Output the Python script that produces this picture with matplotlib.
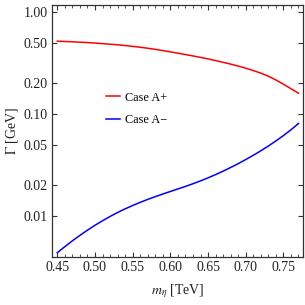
import matplotlib
matplotlib.use("Agg")
import matplotlib.pyplot as plt
from matplotlib.ticker import FixedLocator, MultipleLocator, NullLocator, StrMethodFormatter

# values
m_eta = [0.45, 0.46, 0.47, 0.48, 0.49, 0.50, 0.51, 0.52, 0.53, 0.54, 0.55,
         0.56, 0.57, 0.58, 0.59, 0.60, 0.61, 0.62, 0.63, 0.64, 0.65, 0.66,
         0.67, 0.68, 0.69, 0.70, 0.71, 0.72, 0.73, 0.74, 0.75, 0.76, 0.77]
gamma_plus = [0.520, 0.516, 0.513, 0.508, 0.504, 0.498, 0.492, 0.485, 0.479, 0.471, 0.462,
              0.453, 0.443, 0.432, 0.420, 0.408, 0.396, 0.384, 0.372, 0.360, 0.348, 0.335,
              0.322, 0.309, 0.296, 0.282, 0.267, 0.252, 0.235, 0.216, 0.196, 0.177, 0.160]
gamma_minus = [0.00431, 0.00494, 0.00564, 0.00638, 0.00718, 0.00802, 0.00889, 0.00979, 0.01072, 0.01164, 0.01256,
               0.01349, 0.01442, 0.01535, 0.01629, 0.01726, 0.01828, 0.01936, 0.02056, 0.02193, 0.02350, 0.02529,
               0.02735, 0.02972, 0.03243, 0.03556, 0.03917, 0.04335, 0.04831, 0.05420, 0.06124, 0.06982, 0.08054]
y_ticks = [0.01, 0.02, 0.05, 0.10, 0.20, 0.50, 1.00]
x_ticks = [0.45, 0.50, 0.55, 0.60, 0.65, 0.70, 0.75]

plt.rcParams['font.family'] = ['Liberation Serif', 'DejaVu Serif']
plt.rcParams['mathtext.fontset'] = 'stix'

fig = plt.figure(figsize=(3.05, 3.05), dpi=100)
ax = fig.add_axes([0.1705, 0.157, 0.823, 0.8266])

ax.plot(m_eta, gamma_plus, color='red', lw=1.1)
ax.plot(m_eta, gamma_minus, color='blue', lw=1.1)

ax.set_yscale('log')
ax.set_xlim(0.443, 0.776)
ax.set_ylim(0.0039, 1.18)

ax.yaxis.set_major_locator(FixedLocator(y_ticks))
ax.yaxis.set_minor_locator(NullLocator())
ax.yaxis.set_major_formatter(StrMethodFormatter('{x:.2f}'))
ax.xaxis.set_major_locator(FixedLocator(x_ticks))
ax.xaxis.set_minor_locator(MultipleLocator(0.01))
ax.xaxis.set_major_formatter(StrMethodFormatter('{x:.2f}'))

ax.tick_params(which='both', direction='in', top=True, right=True,
               labelsize=10, colors='#333333', labelcolor='#222222')
ax.tick_params(which='major', length=3.5, width=0.8, pad=3)
ax.tick_params(which='minor', length=2, width=0.6)
for s in ax.spines.values():
    s.set_color('#333333')
    s.set_linewidth(0.9)

ax.set_xlabel(r'$m_\eta$ [TeV]', fontsize=10, color='#222222', labelpad=6)
ax.set_ylabel(r'$\Gamma$ [GeV]', fontsize=10, color='#222222', labelpad=3)

# legend as in the original: short line plus text
ax.legend(['Case A+', 'Case A\u2212'], loc='upper left', bbox_to_anchor=(0.17, 0.70),
          frameon=False, fontsize=8.8, handlelength=1.2, handletextpad=0.4,
          labelspacing=0.85)

fig.savefig('out.png', dpi=100)
